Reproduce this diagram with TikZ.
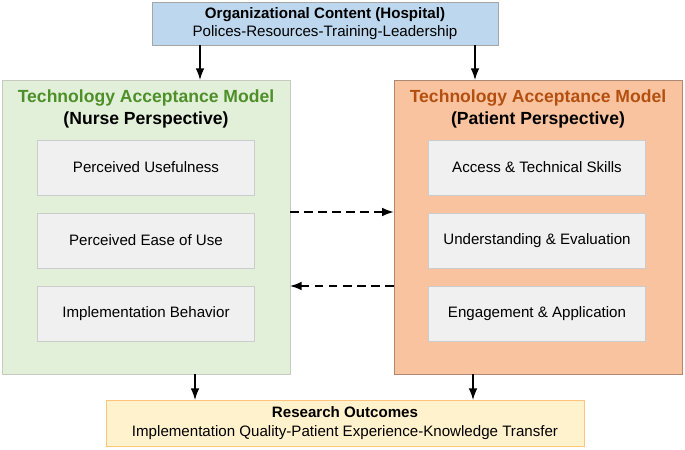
\documentclass[tikz,border=0pt]{standalone}
\usepackage{fontspec}
\setmainfont{Liberation Sans}
\usetikzlibrary{arrows.meta, positioning, calc}
\definecolor{topfill}{HTML}{BDD7EE}
\definecolor{nursefill}{HTML}{E2F0D9}
\definecolor{patfill}{HTML}{F9C3A0}
\definecolor{outfill}{HTML}{FFF2CC}
\definecolor{nursetitle}{HTML}{4E8F2A}
\definecolor{pattitle}{HTML}{B4500F}

\begin{document}
\begin{tikzpicture}[
                x=0.02cm, y=-0.02cm,
                every node/.style={font=\fontsize{8.6}{10.5}\selectfont, align=center, inner sep=0pt},
                frame/.style={rectangle, draw=gray!70},
                item/.style={rectangle, draw=gray!40, fill=gray!12, minimum width=4.34cm, minimum height=1.1cm},
                title/.style={font=\fontsize{10}{12.5}\selectfont\bfseries},
                line/.style={-Latex, thick},
                feedback/.style={-Latex, thick, dash pattern=on 5pt off 3pt}
            ]
            \useasboundingbox (0,0) rectangle (685,449);
            \node[frame, fill=topfill, minimum width=6.92cm, minimum height=0.86cm] (org) at (325,23.5)
                {\textbf{Organizational Content (Hospital)}\\Polices-Resources-Training-Leadership};
            \node[frame, fill=nursefill, draw=nursefill!70!black!60, minimum width=5.76cm, minimum height=5.88cm] (nurse) at (146,227) {};
            \node[frame, fill=patfill, draw=patfill!70!black, minimum width=5.76cm, minimum height=5.88cm] (patient) at (538,227) {};
            \node[frame, fill=outfill, draw=outfill!60!orange, minimum width=9.56cm, minimum height=0.92cm] (out) at (345,423)
                {\textbf{Research Outcomes}\\Implementation Quality-Patient Experience-Knowledge Transfer};

            \node[title] (NT) at (146,109) {\textcolor{nursetitle}{Technology Acceptance Model}\\(Nurse Perspective)};
            \node[title] (PT) at (538,109) {\textcolor{pattitle}{Technology Acceptance Model}\\(Patient Perspective)};

            \node[item] (N1) at (146,167.5) {Perceived Usefulness};
            \node[item] (N2) at (146,240.5) {Perceived Ease of Use};
            \node[item] (N3) at (146,314) {Implementation Behavior};
            \node[item] (P1) at (537,167.5) {Access \& Technical Skills};
            \node[item] (P2) at (537,240.5) {Understanding \& Evaluation};
            \node[item] (P3) at (537,314) {Engagement \& Application};

            % connectors
            \coordinate (a1) at (200,80);
            \coordinate (a2) at (475,80);
            \coordinate (b1) at (195,400);
            \coordinate (b2) at (473,400);
            \draw[line] (org.south -| a1) -- (a1);
            \draw[line] (org.south -| a2) -- (a2);
            \draw[line] (nurse.south -| b1) -- (b1);
            \draw[line] (patient.south -| b2) -- (b2);
            \coordinate (d1) at (290,212);
            \coordinate (d2) at (290,286);
            \draw[feedback] (d1) -- (d1 -| patient.west);
            \draw[feedback] (d2 -| patient.west) -- (d2);
        \end{tikzpicture}
\end{document}
